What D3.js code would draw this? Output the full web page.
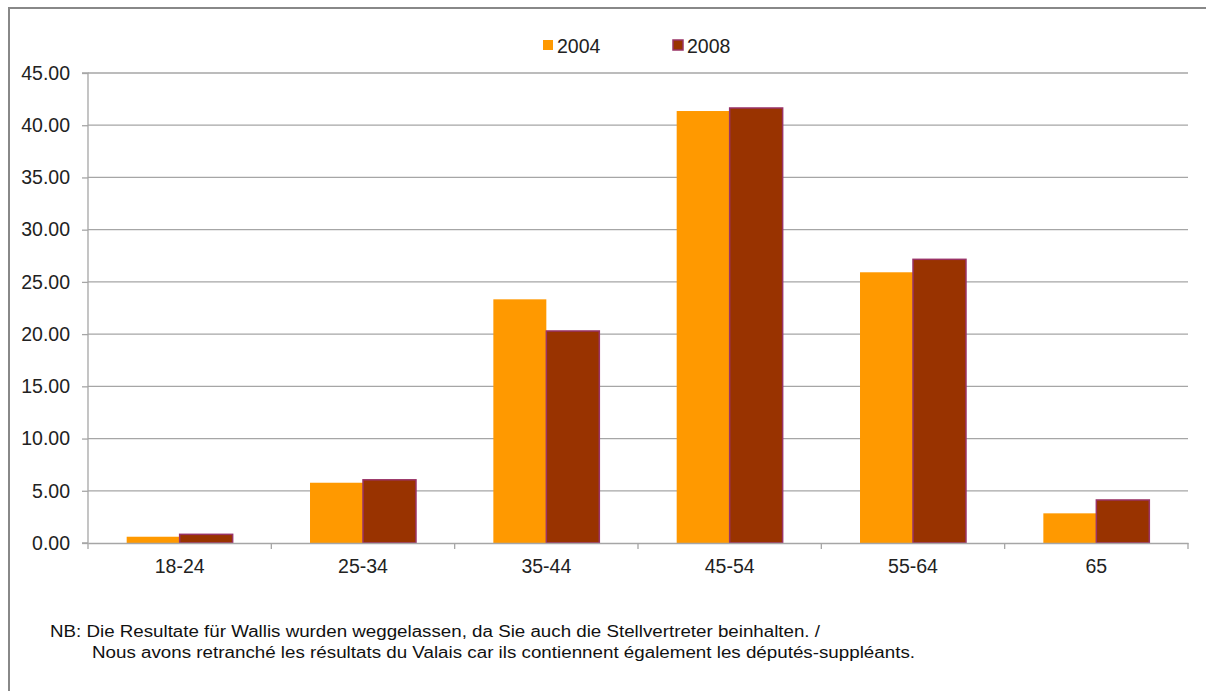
<!DOCTYPE html>
<html><head><meta charset="utf-8">
<script src="https://cdn.jsdelivr.net/npm/d3@7"></script>
<style>body{margin:0;background:#fff}svg{display:block;font-family:"Liberation Sans",Arial,sans-serif}</style>
</head><body><svg id="c" width="1206" height="691"></svg>
<script>
const categories = ["18-24","25-34","35-44","45-54","55-64","65"];
const seriesNames = ["2004","2008"];
const values2004 = [0.60, 5.77, 23.33, 41.36, 25.92, 2.84];
const values2008 = [0.83, 6.05, 20.30, 41.65, 27.16, 4.12];
const yTicks = [0,5,10,15,20,25,30,35,40,45];
const colors = ["#FF9900","#993300"];
const noteLines = ["NB: Die Resultate für Wallis wurden weggelassen, da Sie auch die Stellvertreter beinhalten.  /",
  "Nous avons retranché les résultats du Valais car ils contiennent également les députés-suppléants."];

const svg = d3.select("#c");
// frame
svg.append("path").attr("d","M9,691 V8 H1206").attr("fill","none").attr("stroke","#888").attr("stroke-width",2);

const m = {l:88, r:1188, t:73, b:543};
const x = d3.scaleBand().domain(categories).range([m.l,m.r]).paddingInner(0).paddingOuter(0);
const xs = d3.scaleBand().domain(seriesNames).range([0,x.bandwidth()]).paddingInner(0).paddingOuter(0.73);
const y = d3.scaleLinear().domain([0,45]).range([m.b,m.t]);

// gridlines
svg.append("g").selectAll("line").data(yTicks.filter(d=>d>0)).join("line")
  .attr("x1",m.l).attr("x2",m.r).attr("y1",d=>y(d)).attr("y2",d=>y(d))
  .attr("stroke","#a6a6a6").attr("stroke-width",1.3);

// y axis
const ya = svg.append("g").attr("transform",`translate(${m.l},0)`)
  .call(d3.axisLeft(y).tickValues(yTicks).tickFormat(d3.format(".2f")).tickSize(6).tickPadding(12));
ya.select(".domain").attr("stroke","#a6a6a6").attr("stroke-width",1.3).attr("d",`M-6,${m.t}H0V${m.b}H-6`);
ya.selectAll(".tick line").attr("stroke","#a6a6a6").attr("stroke-width",1.3);
ya.selectAll("text").attr("font-size",19.5).attr("fill","#222").attr("font-family","Liberation Sans, Arial, sans-serif");

// bars
const groups = svg.append("g").selectAll("g").data(categories).join("g")
  .attr("transform",d=>`translate(${x(d)},0)`);
groups.each(function(cat,i){
  const g = d3.select(this);
  const vals = [values2004[i], values2008[i]];
  seriesNames.forEach((s,j)=>{
    g.append("rect").attr("x",xs(s)).attr("width",xs.bandwidth())
      .attr("y",y(vals[j])).attr("height",y(0)-y(vals[j]))
      .attr("fill",colors[j])
      .attr("stroke",j===1?"#993366":"none").attr("stroke-width",j===1?1.5:0);
  });
});

// x axis
const xa = svg.append("g").attr("transform",`translate(0,${m.b})`)
  .call(d3.axisBottom(x).tickSize(0).tickPadding(16));
xa.select(".domain").attr("stroke","#a6a6a6").attr("stroke-width",1.3);
xa.selectAll("text").attr("font-size",19.5).attr("fill","#222").attr("font-family","Liberation Sans, Arial, sans-serif");
// category separator ticks
const bounds = categories.map(c=>x(c)).concat([m.r]);
svg.append("g").selectAll("line").data(bounds).join("line")
  .attr("x1",d=>d).attr("x2",d=>d).attr("y1",m.b).attr("y2",m.b+6)
  .attr("stroke","#a6a6a6").attr("stroke-width",1.3);

// legend
const leg = svg.append("g");
const legX = [543, 673];
seriesNames.forEach((s,j)=>{
  leg.append("rect").attr("x",legX[j]).attr("y",40).attr("width",10).attr("height",10)
    .attr("fill",colors[j]).attr("stroke",j===1?"#993366":"none").attr("stroke-width",1.5);
  leg.append("text").attr("x",legX[j]+14).attr("y",53).attr("font-size",19.5).attr("fill","#222").text(s);
});

// note
svg.append("text").attr("x",50).attr("y",637).attr("font-size",16).attr("fill","#111")
  .attr("textLength",770).attr("lengthAdjust","spacingAndGlyphs").text(noteLines[0]);
svg.append("text").attr("x",92).attr("y",658).attr("font-size",16).attr("fill","#111")
  .attr("textLength",823).attr("lengthAdjust","spacingAndGlyphs").text(noteLines[1]);
</script></body></html>
